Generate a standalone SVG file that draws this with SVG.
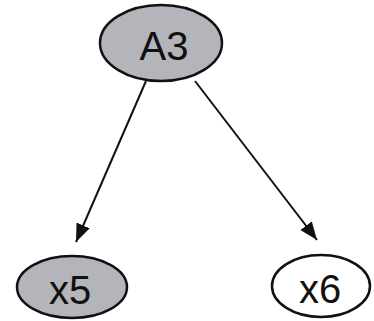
<svg xmlns="http://www.w3.org/2000/svg" width="374" height="321" viewBox="0 0 374 321">
<defs>
<marker id="ah" viewBox="0 0 10 10" refX="10" refY="5" markerWidth="18" markerHeight="18" markerUnits="userSpaceOnUse" orient="auto">
<path d="M0,1 L10,5 L0,9 Z" fill="#111"/>
</marker>
</defs>
<style>
.n{stroke:#111;stroke-width:2.5}
.g{fill:#b4b4bb}
.w{fill:#fff}
.t{font-family:"Liberation Sans",Arial,sans-serif;font-size:40px;fill:#111;text-anchor:middle;dominant-baseline:central}
.e{stroke:#111;stroke-width:2;fill:none}
</style>
<rect width="374" height="321" fill="#fff"/>
<g id="connectors">
<line class="e" x1="146" y1="81" x2="76" y2="242" marker-end="url(#ah)"/>
<line class="e" x1="195" y1="81" x2="317" y2="240" marker-end="url(#ah)"/>
</g>
<g id="A3"><ellipse class="n g" cx="161" cy="43" rx="61" ry="38"/><text class="t" x="164" y="46">A3</text></g>
<g id="x5"><ellipse class="n g" cx="72" cy="287" rx="55" ry="31"/><text class="t" x="70" y="290">x5</text></g>
<g id="x6"><ellipse class="n w" cx="321" cy="286" rx="49" ry="31"/><text class="t" x="320" y="289">x6</text></g>
</svg>
